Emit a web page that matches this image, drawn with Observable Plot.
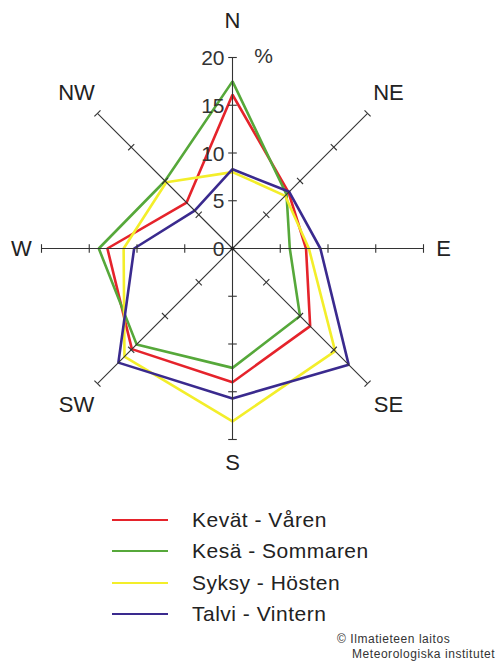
<!DOCTYPE html>
<html><head><meta charset="utf-8">
<script src="https://cdn.jsdelivr.net/npm/d3@7"></script>
<script src="https://cdn.jsdelivr.net/npm/@observablehq/plot@0.6"></script>
<style>
body{margin:0;background:#fff;font-family:"Liberation Sans",Arial,sans-serif;}
#wrap{position:relative;width:498px;height:663px;overflow:hidden;background:#fff;}
#chart{position:absolute;left:0;top:0;}
.row{position:absolute;left:0;height:30px;width:498px;}
.sw{position:absolute;left:112px;width:56px;height:2px;top:14px;}
.lt{position:absolute;left:192px;top:2px;font-size:21px;letter-spacing:0.5px;color:#222;line-height:26px;white-space:nowrap;}
#credit{position:absolute;left:337px;top:632px;font-size:12px;letter-spacing:0.55px;color:#333;line-height:15px;white-space:nowrap;}
#credit .l2{padding-left:15px;}
</style></head><body>
<div id="wrap"><div id="chart"></div><div id="legend"></div>
<div id="credit"><div>© Ilmatieteen laitos</div><div class="l2">Meteorologiska institutet</div></div></div>
<script>
const directions = ["N","NE","E","SE","S","SW","W","NW"];
const seriesNames = ["Kevät - Våren","Kesä - Sommaren","Syksy - Hösten","Talvi - Vintern"];
const kevat = [16.1, 8.3, 7.7, 11.5, 14.0, 14.9, 13.1, 6.8];
const kesa  = [17.5, 8.0, 6.0, 10.0, 12.5, 14.2, 14.0, 10.0];
const syksy = [8.0, 7.8, 8.0, 15.2, 18.1, 16.0, 11.4, 9.8];
const talvi = [8.3, 8.4, 9.2, 17.2, 15.7, 16.9, 10.3, 5.6];
const colors = ["#e5232b","#56a83a","#f3ee2a","#3a2a8e"];
const tickValues = [0, 5, 10, 15, 20];
const tickLabels = ["0", "5", "10", "15", "20"];
const rMax = 20;

const seriesValues = [kevat, kesa, syksy, talvi];
const ang = i => i * Math.PI / 4;
const data = seriesNames.flatMap((name, s) => seriesValues[s].map((v, i) => ({series: name, i, r: v})));
const ticks = directions.flatMap((d, i) => tickValues.filter(t => t > 0).map(t => ({i, t})));
const h = 0.45;
const dirIdx = directions.map((d, i) => ({d, i}));
const labelR = o => (o.i % 2 ? 23.1 : (o.i === 4 ? 22.5 : 22.1));

const plot = Plot.plot({
  width: 498, height: 480,
  x: {domain: [-rMax, rMax], range: [41, 423]},
  y: {domain: [-rMax, rMax], range: [439, 57]},
  axis: null,
  color: {domain: seriesNames, range: colors},
  style: {fontFamily: "'Liberation Sans', Arial, sans-serif", background: "white"},
  marks: [
    Plot.line(data, {
      x: d => d.r * Math.sin(ang(d.i)), y: d => d.r * Math.cos(ang(d.i)),
      z: "series", stroke: "series", curve: "linear-closed", strokeWidth: 2.6, strokeLinejoin: "miter"
    }),
    Plot.link(dirIdx, {
      x1: () => 0, y1: () => 0,
      x2: o => rMax * Math.sin(ang(o.i)), y2: o => rMax * Math.cos(ang(o.i)),
      stroke: "#333", strokeWidth: 1.1
    }),
    Plot.link(ticks, {
      x1: o => o.t * Math.sin(ang(o.i)) + h * Math.cos(ang(o.i)),
      y1: o => o.t * Math.cos(ang(o.i)) - h * Math.sin(ang(o.i)),
      x2: o => o.t * Math.sin(ang(o.i)) - h * Math.cos(ang(o.i)),
      y2: o => o.t * Math.cos(ang(o.i)) + h * Math.sin(ang(o.i)),
      stroke: "#333", strokeWidth: 1.1
    }),
    Plot.dot([0], {x: () => 0, y: () => 0, r: 2, fill: "#222"}),
    Plot.text(tickValues, {
      x: () => 0, y: d => d, text: (d, k) => tickLabels[k],
      textAnchor: "end", dx: -8, dy: 1, fontSize: 21, fill: "#333"
    }),
    Plot.text(["%"], {x: () => 0, y: () => rMax, text: d => d, dx: 31, dy: -1, fontSize: 21, fill: "#333"}),
    Plot.text(dirIdx.filter(o => o.d !== "N"), {
      x: o => labelR(o) * Math.sin(ang(o.i)), y: o => labelR(o) * Math.cos(ang(o.i)),
      text: "d", fontSize: 22, fill: "#222"
    }),
    Plot.text(dirIdx.filter(o => o.d === "N"), {
      x: () => 0, y: () => 22.5, text: "d", dy: -13, fontSize: 22, fill: "#222"
    })
  ]
});
document.getElementById("chart").appendChild(plot);

const legend = document.getElementById("legend");
seriesNames.forEach((name, k) => {
  const row = document.createElement("div");
  row.className = "row";
  row.style.top = (505 + k * 31.3) + "px";
  const sw = document.createElement("div");
  sw.className = "sw"; sw.style.background = colors[k];
  const lt = document.createElement("div");
  lt.className = "lt"; lt.textContent = name;
  row.appendChild(sw); row.appendChild(lt);
  legend.appendChild(row);
});
</script></body></html>
